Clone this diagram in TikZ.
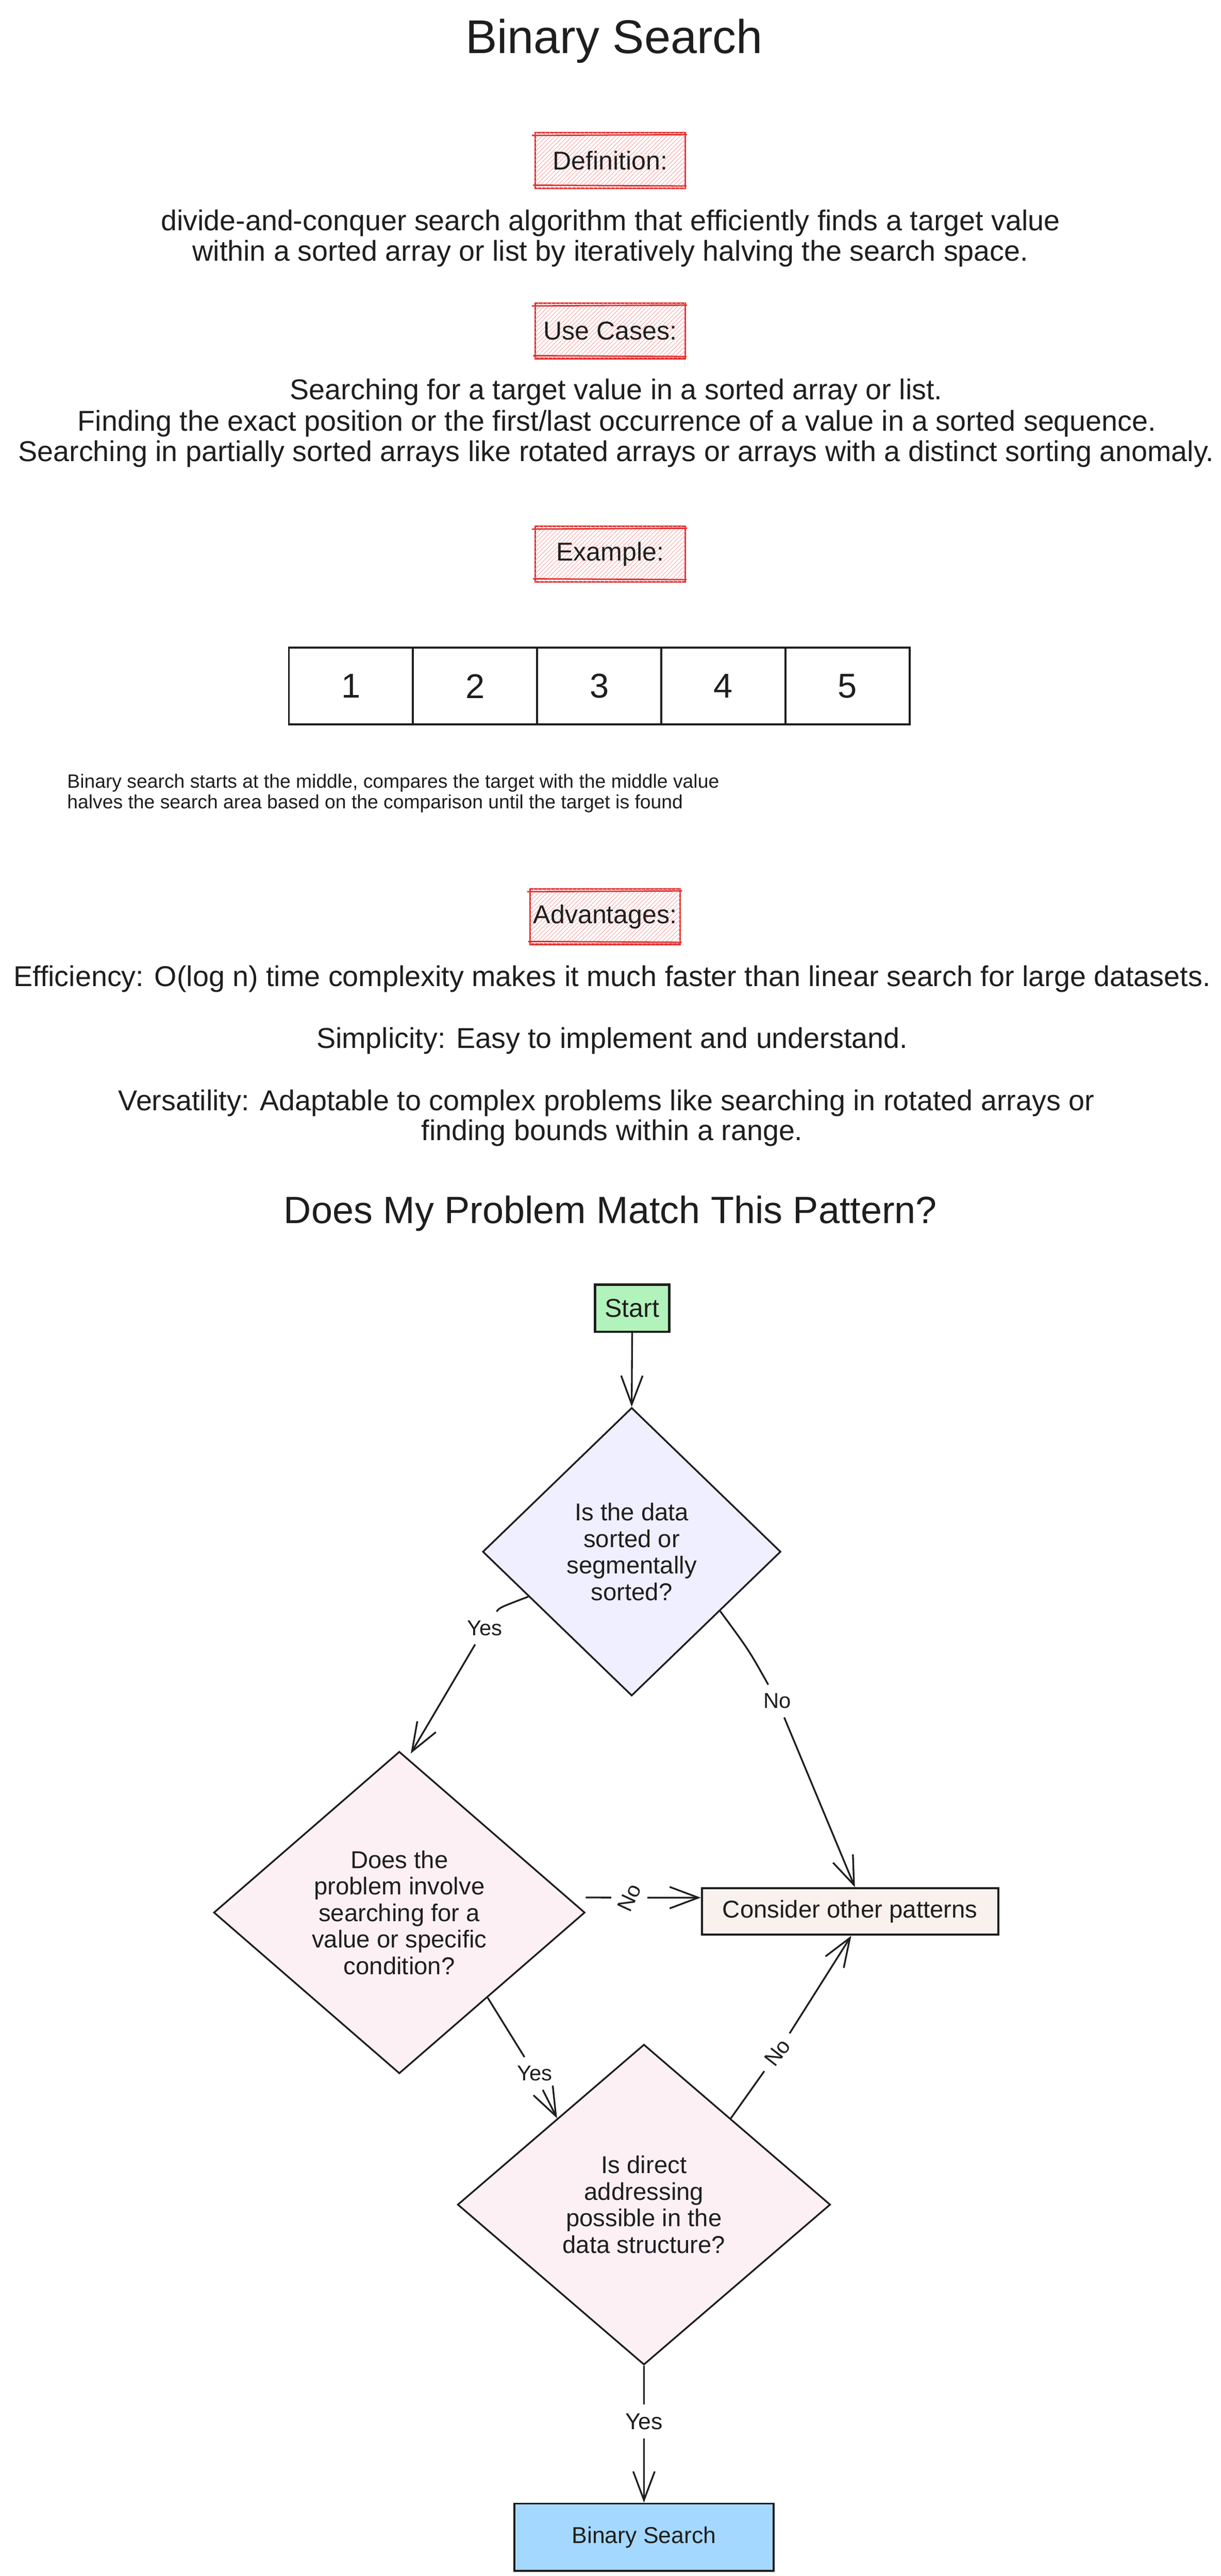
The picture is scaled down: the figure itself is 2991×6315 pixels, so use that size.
\documentclass[tikz,border=0pt]{standalone}
\usepackage{fontspec}
\setmainfont{Liberation Sans}
\usetikzlibrary{shapes.geometric,arrows.meta,calc,patterns}
\definecolor{ink}{RGB}{30,30,30}
\definecolor{redline}{RGB}{224,49,49}
\definecolor{redfill}{RGB}{254,232,232}
\definecolor{hatch}{RGB}{248,175,175}
\definecolor{startfill}{RGB}{178,242,187}
\definecolor{lavfill}{RGB}{240,239,255}
\definecolor{pinkfill}{RGB}{253,240,245}
\definecolor{consfill}{RGB}{248,241,238}
\definecolor{bsfill}{RGB}{165,216,255}
\begin{document}
\begin{tikzpicture}[x=0.01cm, y=-0.01cm,
  every node/.style={text=ink},
  titletxt/.style={font=\fontsize{33}{36}\selectfont, anchor=base, inner sep=0pt},
  bodytxt/.style={font=\fontsize{20}{22}\selectfont, anchor=base, inner sep=0pt},
  smalltxt/.style={font=\fontsize{13.4}{14.2}\selectfont, anchor=base west, inner sep=0pt},
  subtitle/.style={font=\fontsize{26.5}{28}\selectfont, anchor=base, inner sep=0pt},
  hdr/.style={draw=redline, fill=white, line width=1.1pt, minimum width=3.67cm, minimum height=1.36cm, inner sep=0pt, font=\fontsize{18}{20}\selectfont,
    postaction={pattern=north east lines, pattern color=hatch}},
  sk/.style={draw=redline, line width=1pt},
  cell/.style={draw=ink, line width=1.42pt, minimum width=3.042cm, minimum height=1.88cm, inner sep=0pt, font=\fontsize{24}{24}\selectfont},
  dia/.style={shape=diamond, draw=ink, line width=1.2pt, inner sep=0pt, align=center, font=\fontsize{17}{18.5}\selectfont},
  flowbox/.style={draw=ink, line width=1.4pt, inner sep=0pt, font=\fontsize{17}{18}\selectfont},
  lbl/.style={font=\fontsize{15}{15}\selectfont, inner sep=6pt},
  arr/.style={draw=ink, line width=1.2pt, -{Straight Barb[length=20pt,width=15pt]}}
]
\fill[white] (0,0) rectangle (2991,6315);
\path[use as bounding box] (0,0) rectangle (2991,6315);

% ---- title
\node[titletxt] (title) at (1505,131) {Binary Search};

% ---- definition
\node[hdr] (def) at (1495,393) {Definition:};
\node[bodytxt] (def1) at (1496,565) {divide-and-conquer search algorithm that efficiently finds a target value};
\node[bodytxt] (def2) at (1496,640) {within a sorted array or list by iteratively halving the search space.};

% ---- use cases
\node[hdr] (use) at (1495,811) {Use Cases:};
\node[bodytxt] (use1) at (1510,980) {Searching for a target value in a sorted array or list.};
\node[bodytxt] (use2) at (1512,1057) {Finding the exact position or the first/last occurrence of a value in a sorted sequence.};
\node[bodytxt] (use3) at (1510,1131) {Searching in partially sorted arrays like rotated arrays or arrays with a distinct sorting anomaly.};

% ---- example
\node[hdr] (exa) at (1495,1358) {Example:};
\node[cell] (c1) at (860.1,1682) {1};
\node[cell] (c2) at (1164.3,1682) {2};
\node[cell] (c3) at (1468.5,1682) {3};
\node[cell] (c4) at (1772.7,1682) {4};
\node[cell] (c5) at (2076.9,1682) {5};
\node[smalltxt] (ex1) at (164,1932) {Binary search starts at the middle, compares the target with the middle value};
\node[smalltxt] (ex2) at (164,1982) {halves the search area based on the comparison until the target is found};

% ---- advantages
\node[hdr] (adv) at (1483,2247) {Advantages:};
\node[bodytxt] (adv1) at (1500,2418) {Efficiency: O(log n) time complexity makes it much faster than linear search for large datasets.};
\node[bodytxt] (adv2) at (1500,2569) {Simplicity: Easy to implement and understand.};
\node[bodytxt] (adv3) at (1486,2722) {Versatility: Adaptable to complex problems like searching in rotated arrays or};
\node[bodytxt] (adv4) at (1500,2796) {finding bounds within a range.};

% sketchy second strokes of the red header boxes
\foreach \n in {def,use,exa,adv}{
  \draw[sk] ($(\n.north west)+(-6,9)$) -- ($(\n.north east)+(3,7)$);
  \draw[sk] ($(\n.south west)+(-3,-9)$) -- ($(\n.south east)+(2,-7)$);
}

% ---- flowchart
\node[subtitle] (q) at (1496,2999) {Does My Problem Match This Pattern?};

\node[flowbox, fill=startfill, line width=1.6pt, minimum width=1.82cm, minimum height=1.15cm, font=\fontsize{18}{18}\selectfont] (start) at (1549,3207) {Start};

\node[dia, fill=lavfill, minimum width=7.30cm, minimum height=7.06cm] (d1) at (1548,3804)
  {Is the data\\sorted or\\segmentally\\sorted?};

\node[dia, fill=pinkfill, minimum width=9.09cm, minimum height=7.89cm] (d2) at (978.5,4688.5)
  {Does the\\problem involve\\searching for a\\value or specific\\condition?};

\node[flowbox, fill=consfill, minimum width=7.26cm, minimum height=1.14cm] (cons) at (2083,4686) {Consider other patterns};

\node[dia, fill=pinkfill, minimum width=9.13cm, minimum height=7.85cm] (d3) at (1578,5404.5)
  {Is direct\\addressing\\possible in the\\data structure?};

\node[flowbox, fill=bsfill, minimum width=6.35cm, minimum height=1.65cm, font=\fontsize{16}{18}\selectfont] (bs) at (1578,6220) {Binary Search};

% edge labels
\node[lbl] (ly1) at (1188,3991) {Yes};
\node[lbl] (ln1) at (1905,4170) {No};
\node[lbl, rotate=65] (ln2) at (1542,4652) {No};
\node[lbl] (ly2) at (1310,5083) {Yes};
\node[lbl, rotate=52] (ln3) at (1905,5032) {No};
\node[lbl, font=\fontsize{16}{16}\selectfont] (ly3) at (1578,5936) {Yes};

% connectors
\draw[arr] (start.south) -- (d1.north);
\draw[arr] ($(d1.west)!0.31!(d1.south)$) .. controls (1224,3941) .. (ly1) -- ($(d2.north)+(28,7)$);
\draw[arr] ($(d1.east)!0.41!(d1.south)$) .. controls (1835,4045) .. (ln1) -- ($(cons.north)+(12,0)$);
\draw[arr] ($(d2.east)+(0,-37)$) -- (ln2) -- ($(cons.west)+(0,-34)$);
\draw[arr] ($(d2.east)!0.526!(d2.south)$) -- (ly2) -- ($(d3.west)!0.536!(d3.north)$);
\draw[arr] ($(d3.east)!0.536!(d3.north)$) -- (ln3) -- ($(cons.south)+(3,0)$);
\draw[arr] (d3.south) -- (ly3) -- (bs.north);
\end{tikzpicture}
\end{document}
